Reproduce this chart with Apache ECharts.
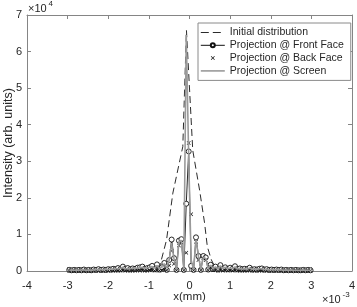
<!DOCTYPE html>
<html><head><meta charset="utf-8">
<script src="https://cdn.jsdelivr.net/npm/echarts@6/dist/echarts.min.js"></script>
<style>html,body{margin:0;padding:0;background:#fff}#c{width:357px;height:307px}</style>
</head><body><div id="c"></div>
<script>
// x positions (units of 1e-3 mm) of the projections
const xGrid = [-2.96,-2.90,-2.84,-2.78,-2.72,-2.66,-2.60,-2.54,-2.48,-2.42,
-2.36,-2.30,-2.24,-2.18,-2.12,-2.06,-2.00,-1.94,-1.88,-1.82,
-1.76,-1.70,-1.64,-1.58,-1.52,-1.46,-1.40,-1.34,-1.28,-1.22,
-1.16,-1.10,-1.04,-0.98,-0.92,-0.86,-0.80,-0.74,-0.68,-0.62,
-0.56,-0.50,-0.44,-0.38,-0.32,-0.26,-0.20,-0.14,-0.08,-0.02,
0.04,0.10,0.16,0.22,0.28,0.34,0.40,0.46,0.52,0.58,
0.64,0.70,0.76,0.82,0.88,0.94,1.00,1.06,1.12,1.18,
1.24,1.30,1.36,1.42,1.48,1.54,1.60,1.66,1.72,1.78,
1.84,1.90,1.96,2.02,2.08,2.14,2.20,2.26,2.32,2.38,
2.44,2.50,2.56,2.62,2.68,2.74,2.80,2.86,2.92,2.98];
// intensities in units of 1e4
const frontFace = [0.03,0.02,0.03,0.02,0.03,0.02,0.04,0.02,0.03,0.02,
0.04,0.03,0.05,0.03,0.04,0.03,0.05,0.04,0.06,0.05,
0.08,0.05,0.12,0.06,0.08,0.05,0.07,0.06,0.09,0.10,
0.12,0.06,0.08,0.10,0.14,0.05,0.18,0.04,0.10,0.22,
0.03,0.30,0.86,0.35,0.03,0.83,0.87,0.03,1.84,3.27,
0.14,0.03,0.92,0.41,0.03,0.41,0.37,0.04,0.17,0.05,
0.12,0.04,0.16,0.06,0.10,0.05,0.09,0.06,0.13,0.05,
0.07,0.05,0.06,0.05,0.09,0.04,0.05,0.04,0.06,0.07,
0.04,0.05,0.03,0.04,0.03,0.04,0.03,0.04,0.02,0.03,
0.02,0.03,0.02,0.03,0.02,0.02,0.03,0.02,0.03,0.02];
const backFace = [0.01,0.01,0.01,0.01,0.01,0.01,0.01,0.01,0.01,0.01,
0.01,0.01,0.01,0.01,0.01,0.01,0.01,0.01,0.01,0.01,
0.01,0.01,0.02,0.01,0.01,0.01,0.01,0.01,0.02,0.01,
0.02,0.01,0.01,0.02,0.02,0.01,0.03,0.01,0.02,0.04,
0.02,0.15,0.55,0.20,0.02,0.70,0.78,0.02,0.50,3.50,
1.55,0.02,0.80,0.30,0.02,0.35,0.30,0.02,0.10,0.02,
0.03,0.01,0.03,0.01,0.02,0.01,0.02,0.01,0.02,0.01,
0.01,0.01,0.01,0.01,0.02,0.01,0.01,0.01,0.01,0.01,
0.01,0.01,0.01,0.01,0.01,0.01,0.01,0.01,0.01,0.01,
0.01,0.01,0.01,0.01,0.01,0.01,0.01,0.01,0.01,0.01];
const screen = [0.02,0.03,0.02,0.03,0.02,0.03,0.03,0.02,0.03,0.02,
0.03,0.04,0.03,0.04,0.03,0.05,0.04,0.05,0.05,0.06,
0.06,0.07,0.10,0.06,0.07,0.06,0.08,0.07,0.08,0.09,
0.10,0.07,0.09,0.10,0.12,0.08,0.15,0.06,0.12,0.20,
0.08,0.30,0.76,0.32,0.06,0.80,0.84,0.05,6.45,3.10,
0.30,0.05,0.86,0.40,0.06,0.38,0.34,0.07,0.16,0.07,
0.11,0.06,0.14,0.07,0.10,0.06,0.08,0.06,0.11,0.06,
0.07,0.05,0.06,0.05,0.08,0.05,0.05,0.04,0.06,0.06,
0.04,0.05,0.03,0.04,0.03,0.04,0.03,0.03,0.02,0.03,
0.02,0.03,0.02,0.02,0.02,0.02,0.03,0.02,0.02,0.02];
// initial distribution vertices
const initX = [-2.96,-1.00,-0.74,-0.565,-0.41,-0.165,-0.075,0.08,0.25,0.37,0.44,0.54,0.64,1.00,2.98];
const initY = [0.00,0.00,0.10,0.85,2.13,3.40,6.58,3.30,2.20,1.32,0.66,0.30,0.08,0.00,0.00];
const xTicks = [-4,-3,-2,-1,0,1,2,3,4];
const yTicks = [0,1,2,3,4,5,6,7];
const seriesNames = ['Initial distribution','Projection @ Front Face','Projection @ Back Face','Projection @ Screen'];

const pair = (xs, ys) => xs.map((x, i) => [x, ys[i]]);
const FONT = 'Liberation Sans';
const TXT = '#262626';
const AX = '#858585';
const xMark = 'path://M0,1.2L1.2,0L5,3.8L8.8,0L10,1.2L6.2,5L10,8.8L8.8,10L5,6.2L1.2,10L0,8.8L3.8,5Z';

const chart = echarts.init(document.getElementById('c'), null, {renderer: 'canvas'});
const axisCommon = {
  type: 'value',
  axisLine: {show: true, onZero: false, lineStyle: {color: AX, width: 1}},
  axisTick: {show: true, inside: true, length: 4, lineStyle: {color: AX}},
  splitLine: {show: false},
  axisLabel: {color: TXT, fontFamily: FONT, fontSize: 11}
};
chart.setOption({
  animation: false,
  backgroundColor: '#fff',
  grid: {left: 27, right: 5, top: 15, bottom: 36, containLabel: false, outerBoundsMode: 'none'},
  xAxis: [
    Object.assign({}, axisCommon, {min: xTicks[0], max: xTicks[xTicks.length-1], interval: 1,
      position: 'bottom', name: 'x(mm)', nameLocation: 'middle', nameGap: 20, nameMoveOverlap: false,
      nameTextStyle: {color: TXT, fontFamily: FONT, fontSize: 11.5},
      axisLabel: {color: TXT, fontFamily: FONT, fontSize: 11, margin: 9}}),
    Object.assign({}, axisCommon, {min: xTicks[0], max: xTicks[xTicks.length-1], interval: 1,
      position: 'top', axisLabel: {show: false}})
  ],
  yAxis: [
    Object.assign({}, axisCommon, {min: yTicks[0], max: yTicks[yTicks.length-1], interval: 1,
      position: 'left', name: 'Intensity (arb. units)', nameLocation: 'middle', nameGap: 12, nameMoveOverlap: false,
      nameTextStyle: {color: TXT, fontFamily: FONT, fontSize: 12.5},
      axisLabel: {color: TXT, fontFamily: FONT, fontSize: 11, margin: 5}}),
    Object.assign({}, axisCommon, {min: yTicks[0], max: yTicks[yTicks.length-1], interval: 1,
      position: 'right', axisLabel: {show: false}})
  ],
  legend: {
    orient: 'vertical', left: 198, top: 23,
    backgroundColor: '#fff', borderColor: '#8a8a8a', borderWidth: 1,
    padding: [4, 7, 4, 2], itemGap: 1.8, itemWidth: 24, itemHeight: 5, itemTextGap: 6,
    textStyle: {color: TXT, fontFamily: FONT, fontSize: 10.5, lineHeight: 10},
    data: [
      {name: seriesNames[0], itemStyle: {opacity: 0}, lineStyle: {width: 1, type: [8, 4], color: '#2b2b2b'}},
      {name: seriesNames[1], lineStyle: {width: 1, color: '#111'}},
      {name: seriesNames[2]},
      {name: seriesNames[3], itemStyle: {opacity: 0}, lineStyle: {width: 1.6, color: '#9a9a9a'}}
    ]
  },
  graphic: [
    {type: 'text', left: 28, top: 3, style: {text: '×10', fontFamily: FONT, fontSize: 11, fill: TXT}},
    {type: 'text', left: 48.5, top: 0, style: {text: '4', fontFamily: FONT, fontSize: 8, fill: TXT}},
    {type: 'text', left: 322, top: 294, style: {text: '×10', fontFamily: FONT, fontSize: 11, fill: TXT}},
    {type: 'text', left: 342.5, top: 291, style: {text: '-3', fontFamily: FONT, fontSize: 8, fill: TXT}}
  ],
  series: [
    {name: seriesNames[0], type: 'line', data: pair(initX, initY), symbol: 'none',
      lineStyle: {color: '#2b2b2b', width: 1, type: [7, 4]}, itemStyle: {color: '#2b2b2b'}, z: 2},
    {name: seriesNames[1], type: 'line', data: pair(xGrid, frontFace), symbol: 'circle', symbolSize: 5,
      lineStyle: {color: '#111', width: 0.9}, itemStyle: {color: '#fff', borderColor: '#111', borderWidth: 0.9}, z: 3},
    {name: seriesNames[2], type: 'line', data: pair(xGrid, backFace), symbol: xMark, symbolSize: 4,
      lineStyle: {width: 0, opacity: 0}, itemStyle: {color: '#111'}, z: 4},
    {name: seriesNames[3], type: 'line', data: pair(xGrid, screen), symbol: 'none',
      lineStyle: {color: '#9a9a9a', width: 1.6}, itemStyle: {color: '#9a9a9a'}, z: 5}
  ]
});
</script></body></html>
